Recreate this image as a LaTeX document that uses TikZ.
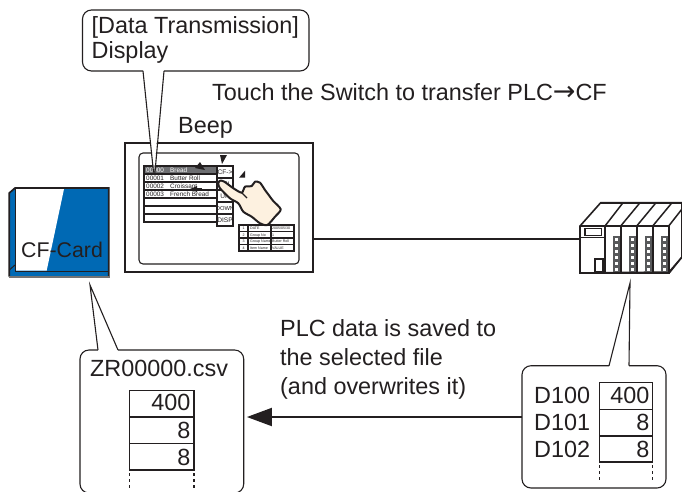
\documentclass[tikz,border=0pt]{standalone}
\usepackage{fontspec}
\setmainfont{Liberation Sans}
\newfontfamily\arrowfont{DejaVu Sans}
\usetikzlibrary{arrows.meta}
\definecolor{ink}{HTML}{231F20}
\definecolor{cfblue}{HTML}{0069B4}
\definecolor{rowgrey}{HTML}{6D6E71}
\definecolor{skin}{HTML}{FDF1E0}
\definecolor{ledgrey}{HTML}{58595B}
\tikzset{
  lbl/.style={anchor=base west,inner sep=0pt,text=ink,font=\fontsize{23.4}{23.4}\selectfont},
  lblr/.style={anchor=base east,inner sep=0pt,text=ink,font=\fontsize{23.4}{23.4}\selectfont},
  tiny/.style={anchor=base west,inner sep=0pt,text=ink,font=\fontsize{6.4}{6.4}\selectfont},
  tinyw/.style={tiny,text=white},
  btn/.style={anchor=base,inner sep=0pt,text=ink,font=\fontsize{6.6}{6.6}\selectfont},
  micro/.style={anchor=base west,inner sep=0pt,text=ink,font=\fontsize{3.6}{3.6}\selectfont},
  bubble/.style={draw=ink,line width=1.1pt,fill=white,rounded corners=9pt,line join=miter},
  cell/.style={draw=ink,line width=1.1pt,fill=white},
  dots/.style={draw=ink,line width=1.1pt,dash pattern=on 3pt off 3pt},
  mark tri/.style={fill=ink,draw=none}
}
\begin{document}
\begin{tikzpicture}[x=1pt,y=-1pt]
\useasboundingbox (0,0) rectangle (682,491);
\fill[white] (0,0) rectangle (682,491);

% anchors for connectors
\node[draw=ink,line width=2.6pt,fill=white,minimum width=188pt,minimum height=129pt,inner sep=0pt] (monitor) at (219,207.5) {};
\coordinate (plcport) at (580,239);
\coordinate (arrowstart) at (522,417);
\node[inner sep=0pt,minimum width=164pt,minimum height=1pt] (csvedge) at (162,417) {};

% wire monitor -> PLC
\draw[ink,line width=1.9pt] (monitor.east |- plcport) -- (plcport);

% monitor interior
\draw[ink,line width=1.1pt,rounded corners=4pt] (139,153) rectangle (299,264);
\foreach \yy in {166,174,182,190,198,206,214}{
  \draw[cell,line width=1.8pt] (144,\yy) rectangle (217,\yy+8);
}
\fill[rowgrey] (144.9,166.9) rectangle (216.1,173.1);
\foreach \yy in {166,178,190,202,214}{
  \draw[cell,line width=1.3pt] (217,\yy) rectangle (233,\yy+12);
}
\node[tinyw] (r0a) at (146,172.5) {00000};
\node[tinyw] (r0b) at (170,172.5) {Bread};
\node[tiny] (r1a) at (146,180.5) {00001};
\node[tiny] (r1b) at (170,180.5) {Butter Roll};
\node[tiny] (r2a) at (146,188.5) {00002};
\node[tiny] (r2b) at (170,188.5) {Croissant};
\node[tiny] (r3a) at (146,196.5) {00003};
\node[tiny] (r3b) at (170,196.5) {French Bread};
\node[btn] (b1) at (225,174.8) {CF->};
\node[btn] (b2) at (225,186.8) {SEL};
\node[btn] (b3) at (225,198.8) {UP};
\node[btn,font=\fontsize{5.8}{5.8}\selectfont] (b4) at (225,210.6) {DOWN};
\node[btn] (b5) at (225,222.8) {DISP};

% small data table
\foreach \yy in {225,231.5,238,244.5}{
  \draw[cell,line width=1.3pt] (239,\yy) rectangle (248,\yy+6.5);
  \draw[cell,line width=1.3pt] (248,\yy) rectangle (271,\yy+6.5);
  \draw[cell,line width=1.3pt] (271,\yy) rectangle (294,\yy+6.5);
}
\node[micro] (t1a) at (242.5,229.6) {1};
\node[micro] (t1b) at (250,229.6) {DATE};
\node[micro] (t1c) at (272,229.6) {2005/05/30};
\node[micro] (t2a) at (242.5,236.1) {2};
\node[micro] (t2b) at (250,236.1) {Group No};
\node[micro] (t2c) at (272,236.1) {1};
\node[micro] (t3a) at (242.5,242.6) {3};
\node[micro] (t3b) at (250,242.6) {Group Name};
\node[micro] (t3c) at (272,242.6) {Butter Roll};
\node[micro] (t4a) at (242.5,249.1) {4};
\node[micro] (t4b) at (250,249.1) {Item Name};
\node[micro] (t4c) at (272,249.1) {VALUE};

% black pointers
\fill[mark tri] (220,155) -- (227,155) -- (222,164) -- cycle;
\fill[mark tri] (195,168) -- (200,162) -- (205,170) -- cycle;
\fill[mark tri] (239,177.7) -- (245,170.7) -- (245,177.7) -- cycle;
\fill[mark tri] (190,189) -- (197,186) -- (197,192) -- cycle;
\draw[ink,line width=0.9pt] (195,188.5) -- (202,188.5);

% hand
\draw[ink,line width=2pt,fill=skin,line join=round]
  plot[smooth cycle,tension=0.45] coordinates{
  (220,180.7) (224,181.5) (233,188) (241.7,192.7) (245,186.7) (251.7,186) (255,181.7) (260,182.7)
  (265,190) (268,194) (273,200.7) (280.7,209.3) (275,216.7) (267.3,225) (260,223.3) (251.7,216.7)
  (243.3,211.7) (238.3,203.3) (230,198.3) (220,188.3) (218.3,183.3)};
\draw[ink,line width=1.3pt] (241.7,192.7) -- (247,198);

% callout 1
\draw[bubble] (143,71) -- (82.5,71) -- (82.5,10) -- (309,10) -- (309,71) -- (164,71);
\fill[white] (143.5,70) -- (154,172) -- (163.5,70) -- cycle;
\draw[ink,line width=1.1pt,line join=miter] (143,71) -- (153.5,172) -- (155,172) -- (164,71);
\node[lbl] (title) at (91.5,33) {[Data Transmission]};
\node[lbl] (title2) at (91.5,58.5) {Display};
\node[lbl] (touch) at (212,100) {Touch the Switch to transfer PLC{\arrowfont\fontsize{27}{27}\selectfont →}CF};
\node[lbl] (beep) at (178,133.5) {Beep};

% CF card
\fill[cfblue] (9.3,193) -- (15,188) -- (108.7,188) -- (108.7,276.7) -- (9.3,276.7) -- cycle;
\fill[white] (15.5,189) -- (64,189) -- (46.7,270.5) -- (15.5,270.5) -- cycle;
\draw[ink,line width=1.7pt,line join=miter] (9.3,276.7) -- (9.3,193) -- (15,188) -- (108.7,188) -- (108.7,276.7);
\draw[ink,line width=1pt] (15,188) -- (15,271) -- (108.7,271);
\draw[ink,line width=1pt] (9.3,270) -- (15,265);
\draw[black!55,line width=1.6pt] (8.5,276.9) -- (109.5,276.9);
\node[lbl,font=\fontsize{21.3}{21.3}\selectfont] (cf) at (21,257) {CF-Card};

% PLC
\draw[ink,line width=1.6pt,fill=white,line join=miter] (580,226) -- (600.7,202.7) -- (682,202.7) -- (682,257) -- (670,272) -- (580,273) -- cycle;
\draw[ink,line width=2.4pt] (580,226) -- (668.7,226);
\draw[ink,line width=2.4pt] (580,226) -- (580,273);
\draw[ink,line width=2.4pt] (600.7,202.7) -- (682,202.7);
\draw[ink,line width=2.8pt] (579,273) -- (669.5,273);
\foreach \xa/\xb in {605/623,620.7/640,636.7/656,652.7/672}{
  \draw[ink,line width=1.5pt] (\xa,226) -- (\xb,202.7);
}
\draw[ink,line width=1.5pt] (668.7,226) -- (682,209);
\foreach \xx in {605,620.7,636.7,652.7,668.7}{
  \draw[ink,line width=1.9pt] (\xx,226) -- (\xx,273);
}
\draw[ink,line width=1.5pt] (669,272) -- (682,257);
\draw[ink,line width=1.2pt] (585,228.5) rectangle (601.7,235.5);
\draw[ink,line width=1.2pt] (580,237.5) -- (605,237.5);
\draw[ink,line width=1.2pt] (595,259) rectangle (603,271.5);
\foreach \xx in {613,628.5,645,661}{
  \fill[ledgrey] (\xx,236) rectangle (\xx+7,272);
  \foreach \yy in {238,244,250,256,262,268}{
    \fill[white] (\xx+2,\yy) rectangle (\xx+5,\yy+3);
  }
}

% CSV callout
\draw[bubble] (98,350) -- (80,350) -- (80,493) -- (243.7,493) -- (243.7,350) -- (118,350);
\fill[white] (98.5,351) -- (90,286) -- (117.5,351) -- cycle;
\draw[ink,line width=1.1pt,line join=miter] (98,350) -- (90,285) -- (118,350);
\node[lbl] (csvname) at (90,376.7) {ZR00000.csv};
\foreach \ya/\yb in {390.7/417,417/443.7,443.7/470}{
  \draw[cell] (129.7,\ya) rectangle (194,\yb);
}
\node[lblr] (c1) at (190.5,410.7) {400};
\node[lblr] (c2) at (190.5,438) {8};
\node[lblr] (c3) at (190.5,465.5) {8};
\draw[dots] (129.7,473) -- (129.7,488);
\draw[dots] (194,473) -- (194,488);

% device callout
\draw[bubble] (609,365.7) -- (522,365.7) -- (522,488) -- (666,488) -- (666,365.7) -- (629,365.7);
\fill[white] (609.5,366.7) -- (630,284) -- (628.5,366.7) -- cycle;
\draw[ink,line width=1.1pt,line join=miter] (609,365.7) -- (630,283) -- (629,365.7);
\node[lbl] (d0) at (534,403) {D100};
\node[lbl] (d1) at (534,430.5) {D101};
\node[lbl] (d2) at (534,457.5) {D102};
\foreach \ya/\yb in {382.7/409.3,409.3/436,436/462}{
  \draw[cell] (599.3,\ya) rectangle (652.7,\yb);
}
\node[lblr] (v1) at (649.5,403) {400};
\node[lblr] (v2) at (649.5,430.5) {8};
\node[lblr] (v3) at (649.5,457.5) {8};
\draw[dots] (599.3,465) -- (599.3,480);
\draw[dots] (652.7,465) -- (652.7,480);

% data arrow
\draw[ink,line width=1.9pt,-{Triangle[length=25pt,width=18pt]}] (arrowstart) -- ([xshift=2.7pt]csvedge.east |- arrowstart);
\node[lbl] (p1) at (280,336.5) {PLC data is saved to};
\node[lbl] (p2) at (280,365.5) {the selected file};
\node[lbl] (p3) at (280,394) {(and overwrites it)};
\end{tikzpicture}
\end{document}
